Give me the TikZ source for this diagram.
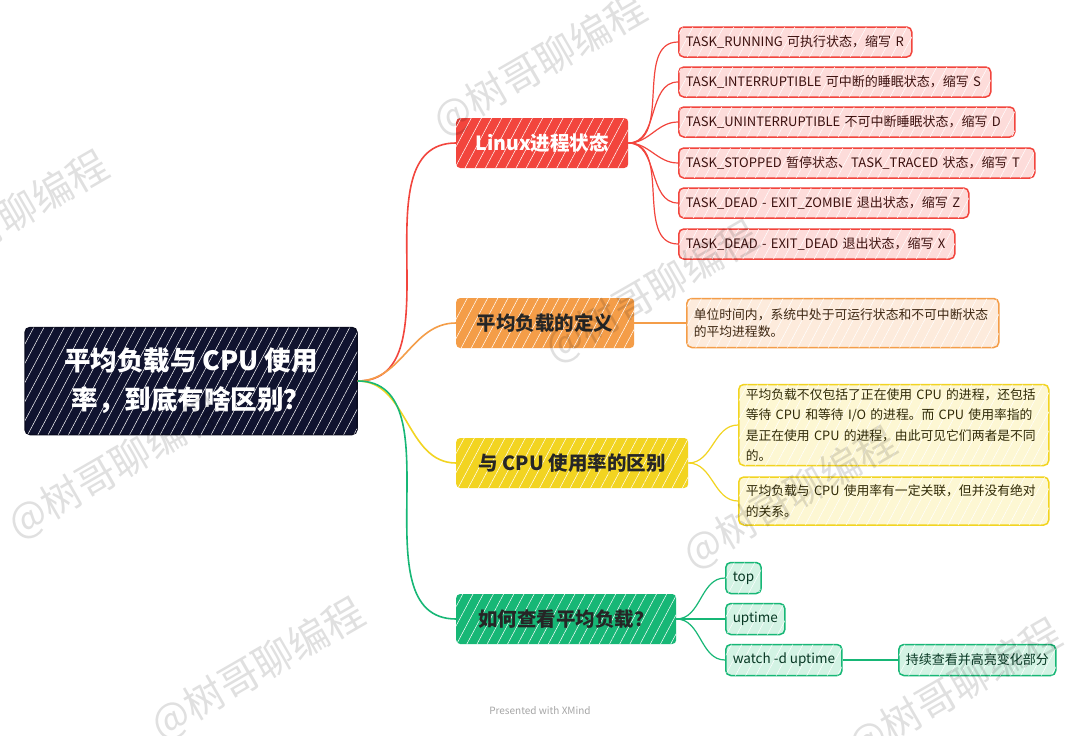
\documentclass[tikz,border=0pt]{standalone}
\usepackage{fontspec}
\setmainfont{Noto Sans CJK SC}
\usetikzlibrary{positioning}
\usetikzlibrary{patterns.meta}
\definecolor{rootc}{HTML}{10132F}
\definecolor{redc}{HTML}{F2453D}
\definecolor{redl}{HTML}{FDDCDA}
\definecolor{orgc}{HTML}{F49D48}
\definecolor{orgl}{HTML}{FDEBDC}
\definecolor{yelc}{HTML}{F2D421}
\definecolor{yell}{HTML}{FDF7D3}
\definecolor{grnc}{HTML}{17B776}
\definecolor{grnl}{HTML}{D3F3E4}
\tikzset{
  hatch/.style={postaction={pattern={Lines[angle=62,distance=9pt,line width=0.5pt]},pattern color=white,fill opacity=#1}},
  topic/.style={rounded corners=4pt,anchor=west,minimum height=50pt,inner sep=0pt,font=\fontsize{19.5}{21}\selectfont\bfseries,hatch=0.45},
  leaf/.style={rounded corners=5pt,line width=1.5pt,anchor=west,inner xsep=7pt,inner ysep=0pt,text width=#1,align=left,font=\fontsize{13}{20}\selectfont,hatch=0.5},
  gleaf/.style={rounded corners=5pt,line width=1.5pt,anchor=west,inner xsep=7pt,inner ysep=0pt,minimum height=31pt,draw=grnc,fill=grnl,text=grnc!30!black,font=\fontsize{13.5}{15}\selectfont,hatch=0.5},
  main/.style={line width=1.6pt},
  sub/.style={line width=1.2pt},
  wm/.style={rotate=30,text=black,opacity=0.12,font=\fontsize{40}{40}\selectfont}
}
\begin{document}
\begin{tikzpicture}[x=1pt,y=-1pt]
\useasboundingbox[fill=white] (0,0) rectangle (1080,736);
\node[draw=rootc!70!black,line width=1.5pt,fill=rootc,rounded corners=5pt,text=white,align=center,minimum width=332pt,minimum height=107pt,font=\fontsize{26.5}{39}\selectfont\bfseries,hatch=0.7] (root) at (191,381) {平均负载与 CPU 使用\\率，到底有啥区别？};
\node[topic,fill=redc,text=white,minimum width=172pt] (linux) at (456,143) {Linux进程状态};
\node[topic,fill=orgc,text=black!85,minimum width=178pt] (avg) at (456,323) {平均负载的定义};
\node[topic,fill=yelc,text=black!85,minimum width=232pt] (diff) at (456,463) {与 CPU 使用率的区别};
\node[topic,fill=grnc,text=black!85,minimum width=220pt] (howto) at (456,619) {如何查看平均负载？};
\node[leaf=219pt,draw=redc,fill=redl,text=redc!25!black,minimum height=30pt] (r1) at (678,42) {TASK\_RUNNING 可执行状态，缩写 R};
\node[leaf=298pt,draw=redc,fill=redl,text=redc!25!black,minimum height=30pt] (r2) at (678,82) {TASK\_INTERRUPTIBLE 可中断的睡眠状态，缩写 S};
\node[leaf=322pt,draw=redc,fill=redl,text=redc!25!black,minimum height=30pt] (r3) at (678,122) {TASK\_UNINTERRUPTIBLE 不可中断睡眠状态，缩写 D};
\node[leaf=342pt,draw=redc,fill=redl,text=redc!25!black,minimum height=30pt] (r4) at (678,163) {TASK\_STOPPED 暂停状态、TASK\_TRACED 状态，缩写 T};
\node[leaf=276pt,draw=redc,fill=redl,text=redc!25!black,minimum height=30pt] (r5) at (678,203) {TASK\_DEAD - EXIT\_ZOMBIE 退出状态，缩写 Z};
\node[leaf=262pt,draw=redc,fill=redl,text=redc!25!black,minimum height=30pt] (r6) at (678,244) {TASK\_DEAD - EXIT\_DEAD 退出状态，缩写 X};
\node[leaf=298pt,draw=orgc,fill=orgl,text=orgc!25!black,minimum height=49pt,font=\fontsize{12.8}{17.5}\selectfont] (def) at (686,323) {单位时间内，系统中处于可运行状态和不可中断状态\\的平均进程数。};
\node[leaf=296pt,draw=yelc,fill=yell,text=yelc!20!black,minimum height=81pt,font=\fontsize{12.8}{20.5}\selectfont] (d1) at (738,425) {平均负载不仅包括了正在使用 CPU 的进程，还包括\\等待 CPU 和等待 I/O 的进程。而 CPU 使用率指的\\是正在使用 CPU 的进程，由此可见它们两者是不同\\的。};
\node[leaf=296pt,draw=yelc,fill=yell,text=yelc!20!black,minimum height=48pt,font=\fontsize{12.8}{20.5}\selectfont] (d2) at (738,501) {平均负载与 CPU 使用率有一定关联，但并没有绝对\\的关系。};
\node[gleaf] (top) at (725,578) {top};
\node[gleaf] (uptime) at (725,619) {uptime};
\node[gleaf] (watch) at (725,660) {watch -d uptime};
\node[gleaf,font=\fontsize{13}{15}\selectfont] (keep) at (898,660) {持续查看并高亮变化部分};
\draw[main,redc] (root.east) to[out=0,in=180] (linux.west);
\draw[main,orgc] (root.east) to[out=0,in=180] (avg.west);
\draw[main,yelc] (root.east) to[out=0,in=180] (diff.west);
\draw[main,grnc] (root.east) to[out=0,in=180] (howto.west);
\draw[sub,redc] (linux.east) to[out=0,in=180] (r1.west);
\draw[sub,redc] (linux.east) to[out=0,in=180] (r2.west);
\draw[sub,redc] (linux.east) to[out=0,in=180] (r3.west);
\draw[sub,redc] (linux.east) to[out=0,in=180] (r4.west);
\draw[sub,redc] (linux.east) to[out=0,in=180] (r5.west);
\draw[sub,redc] (linux.east) to[out=0,in=180] (r6.west);
\draw[sub,orgc] (avg.east) -- (def.west);
\draw[sub,yelc] (diff.east) to[out=0,in=180] (d1.west);
\draw[sub,yelc] (diff.east) to[out=0,in=180] (d2.west);
\draw[sub,grnc] (howto.east) to[out=0,in=180] (top.west);
\draw[sub,grnc] (howto.east) to[out=0,in=180] (uptime.west);
\draw[sub,grnc] (howto.east) to[out=0,in=180] (watch.west);
\draw[sub,grnc] (watch.east) -- (keep.west);
\node[text=black!35,font=\fontsize{10}{12}\selectfont] (xmind) at (540,711) {Presented with XMind};
\node[wm] (wm1) at (540,65) {@树哥聊编程};
\node[wm] (wm2) at (2,222) {@树哥聊编程};
\node[wm] (wm3) at (652,292) {@树哥聊编程};
\node[wm] (wm4) at (115,468) {@树哥聊编程};
\node[wm] (wm5) at (790,498) {@树哥聊编程};
\node[wm] (wm6) at (258,669) {@树哥聊编程};
\node[wm] (wm7) at (955,690) {@树哥聊编程};
\end{tikzpicture}
\end{document}
